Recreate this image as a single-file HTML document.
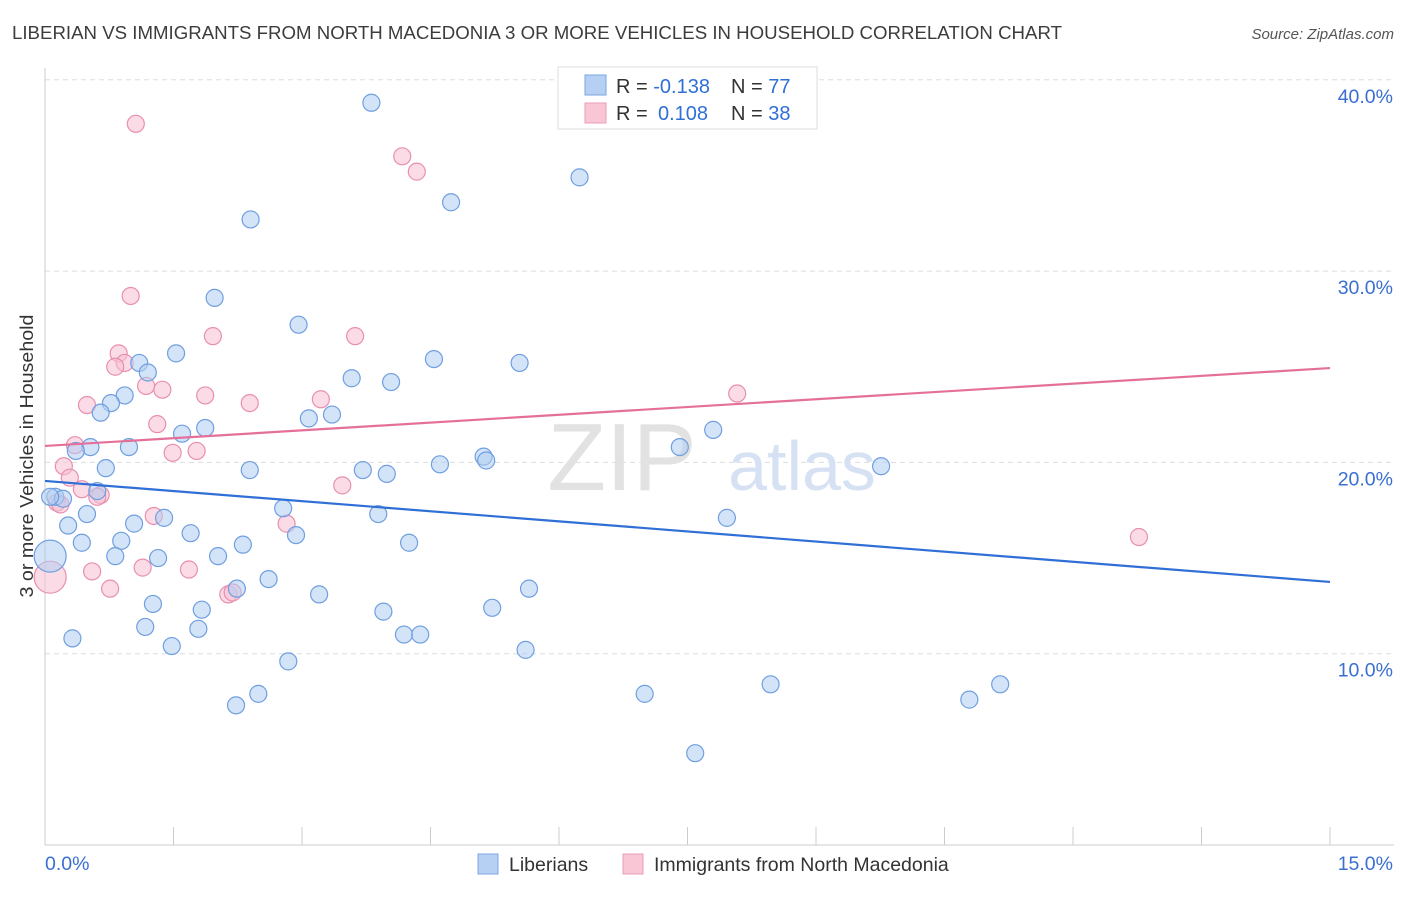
<!DOCTYPE html>
<html><head><meta charset="utf-8"><style>
body{margin:0;background:#fff;font-family:"Liberation Sans",sans-serif;}
svg text{font-family:"Liberation Sans",sans-serif;}
</style></head><body>
<svg id="chart" width="1406" height="892" viewBox="0 0 1406 892">
<text x="12" y="39" font-size="18" fill="#3c3c3c" textLength="1050" lengthAdjust="spacingAndGlyphs">LIBERIAN VS IMMIGRANTS FROM NORTH MACEDONIA 3 OR MORE VEHICLES IN HOUSEHOLD CORRELATION CHART</text>
<text x="1394" y="39" font-size="15" fill="#555" font-style="italic" text-anchor="end">Source: ZipAtlas.com</text>
<text x="33" y="456" font-size="18.5" fill="#333" transform="rotate(-90 33 456)" text-anchor="middle" textLength="283" lengthAdjust="spacingAndGlyphs">3 or more Vehicles in Household</text>
<g id="grid"></g>
<g id="axes"></g>
<text x="622" y="490" font-size="96" fill="#e2e2e2" font-family="Liberation Serif" text-anchor="middle">ZIP</text>
<text x="802" y="490" font-size="70" fill="#d6e2f4" text-anchor="middle">atlas</text>
<g id="pts"></g>
<g id="lines"></g>
<g>
<rect x="558" y="67" width="259" height="62" fill="#fff" stroke="#ddd"/>
<rect x="585" y="75" width="21" height="20" fill="#b6d0f3" stroke="#7aa6e3"/>
<rect x="585" y="103" width="21" height="20" fill="#f8c6d5" stroke="#eb9db8"/>
<text x="616" y="93" font-size="20" fill="#333">R = <tspan fill="#2f6fd6">-0.138</tspan></text>
<text x="731" y="93" font-size="20" fill="#333">N = <tspan fill="#2f6fd6">77</tspan></text>
<text x="616" y="120" font-size="20" fill="#333">R = <tspan fill="#2f6fd6" x="658">0.108</tspan></text>
<text x="731" y="120" font-size="20" fill="#333">N = <tspan fill="#2f6fd6">38</tspan></text>
</g>
<g>
<rect x="478" y="854" width="20" height="20" fill="#b6d0f3" stroke="#7aa6e3"/>
<text x="509" y="871" font-size="19.5" fill="#333">Liberians</text>
<rect x="623" y="854" width="20" height="20" fill="#f8c6d5" stroke="#eb9db8"/>
<text x="654" y="871" font-size="19.5" fill="#333">Immigrants from North Macedonia</text>
</g>
</svg>
<script>
const yTicks=[10,20,30,40];
const yTickLabels=["10.0%","20.0%","30.0%","40.0%"];
const xTickCount=10;
const xMax=15;
const blueX=[3.81,6.24,4.74,2.40,1.98,2.96,1.53,1.10,1.20,4.54,5.54,3.58,4.04,0.93,0.77,0.65,3.35,3.08,1.87,1.60,7.80,0.53,0.98,0.36,7.41,5.12,5.15,4.61,0.71,2.39,3.71,3.99,9.76,0.12,0.21,0.61,2.78,0.49,3.89,1.39,7.96,0.27,1.04,2.93,1.70,0.43,0.89,2.31,4.25,0.82,1.32,2.02,2.61,2.24,5.65,3.20,1.26,5.22,1.83,3.95,1.17,1.79,4.19,4.38,0.32,1.48,5.61,2.84,8.47,11.15,7.00,2.49,10.79,2.23,7.59,0.06];
const blueY=[38.8,34.9,33.6,32.7,28.6,27.2,25.7,25.2,24.7,25.4,25.2,24.4,24.2,23.5,23.1,22.6,22.5,22.3,21.8,21.5,21.7,20.8,20.8,20.6,20.8,20.3,20.1,19.9,19.7,19.6,19.6,19.4,19.8,18.2,18.1,18.5,17.6,17.3,17.3,17.1,17.1,16.7,16.8,16.2,16.3,15.8,15.9,15.7,15.8,15.1,15.0,15.1,13.9,13.4,13.4,13.1,12.6,12.4,12.3,12.2,11.4,11.3,11.0,11.0,10.8,10.4,10.2,9.6,8.4,8.4,7.9,7.9,7.6,7.3,4.8,18.2];
const pinkX=[1.06,4.17,4.34,1.00,1.96,3.62,0.86,0.93,0.82,1.18,1.37,1.87,0.49,2.39,3.22,8.08,1.31,0.35,1.49,1.77,0.22,0.29,0.43,0.65,0.61,0.14,2.82,1.27,12.77,0.55,1.68,1.14,0.76,2.14,2.19,3.47,0.18];
const pinkY=[37.7,36.0,35.2,28.7,26.6,26.6,25.7,25.2,25.0,24.0,23.8,23.5,23.0,23.1,23.3,23.6,22.0,20.9,20.5,20.6,19.8,19.2,18.6,18.3,18.2,17.9,16.8,17.2,16.1,14.3,14.4,14.5,13.4,13.1,13.2,18.8,17.8];
const bigBlue=[0.06,15.1];
const bigPink=[0.06,14.0];
const blueTrend=[19.03,13.75];
const pinkTrend=[20.86,24.93];
const NS="http://www.w3.org/2000/svg";
const X0=45,X1=1330,Y0=845,PX=19.13;
const sx=v=>X0+v*(X1-X0)/xMax, sy=v=>Y0-v*PX;
function mk(tag,attrs,parent){const e=document.createElementNS(NS,tag);for(const k in attrs)e.setAttribute(k,attrs[k]);document.getElementById(parent).appendChild(e);return e;}
yTicks.forEach((t,i)=>{
 const l=mk('line',{x1:X0,x2:1394,y1:sy(t),y2:sy(t),stroke:'#ddd','stroke-dasharray':'5,4'},'grid');
 
 
 const tx=mk('text',{x:1393,y:sy(t)+23,'font-size':19.5,fill:'#3a6fd0','text-anchor':'end'},'axes');
 tx.textContent=yTickLabels[i];
 
 
});
mk('line',{x1:X0,x2:X0,y1:68,y2:Y0,stroke:'#ccc'},'grid');
mk('line',{x1:X0,x2:1394,y1:Y0,y2:Y0,stroke:'#ccc'},'grid');
for(let i=1;i<=xTickCount;i++){const x=sx(i*xMax/xTickCount);mk('line',{x1:x,x2:x,y1:827,y2:Y0,stroke:'#ccc'},'grid');}
const xl0=mk('text',{x:45,y:870,'font-size':19.5,fill:'#3a6fd0'},'axes');xl0.textContent='0.0%';


const xl1=mk('text',{x:1393,y:870,'font-size':19.5,fill:'#3a6fd0','text-anchor':'end'},'axes');xl1.textContent='15.0%';


function dot(x,y,r,f,s,name){const c=mk('circle',{cx:sx(x),cy:sy(y),r:r,fill:f,'fill-opacity':0.55,stroke:s,'stroke-width':1.2},'pts');
 
 }
pinkX.forEach((x,i)=>dot(x,pinkY[i],8.5,'#f8c0d2','#e88fb0','point-macedonia'));
blueX.forEach((x,i)=>dot(x,blueY[i],8.5,'#b0cdf2','#6f9fe0','point-liberian'));
dot(bigPink[0],bigPink[1],16,'#f8c0d2','#e88fb0','point-macedonia-large');
dot(bigBlue[0],bigBlue[1],16,'#b0cdf2','#6f9fe0','point-liberian-large');
const bl=mk('line',{x1:sx(0),x2:sx(xMax),y1:sy(blueTrend[0]),y2:sy(blueTrend[1]),stroke:'#2f6fd6','stroke-width':2.2},'lines');


const pl=mk('line',{x1:sx(0),x2:sx(xMax),y1:sy(pinkTrend[0]),y2:sy(pinkTrend[1]),stroke:'#e4709a','stroke-width':2.2},'lines');


</script>
</body></html>
